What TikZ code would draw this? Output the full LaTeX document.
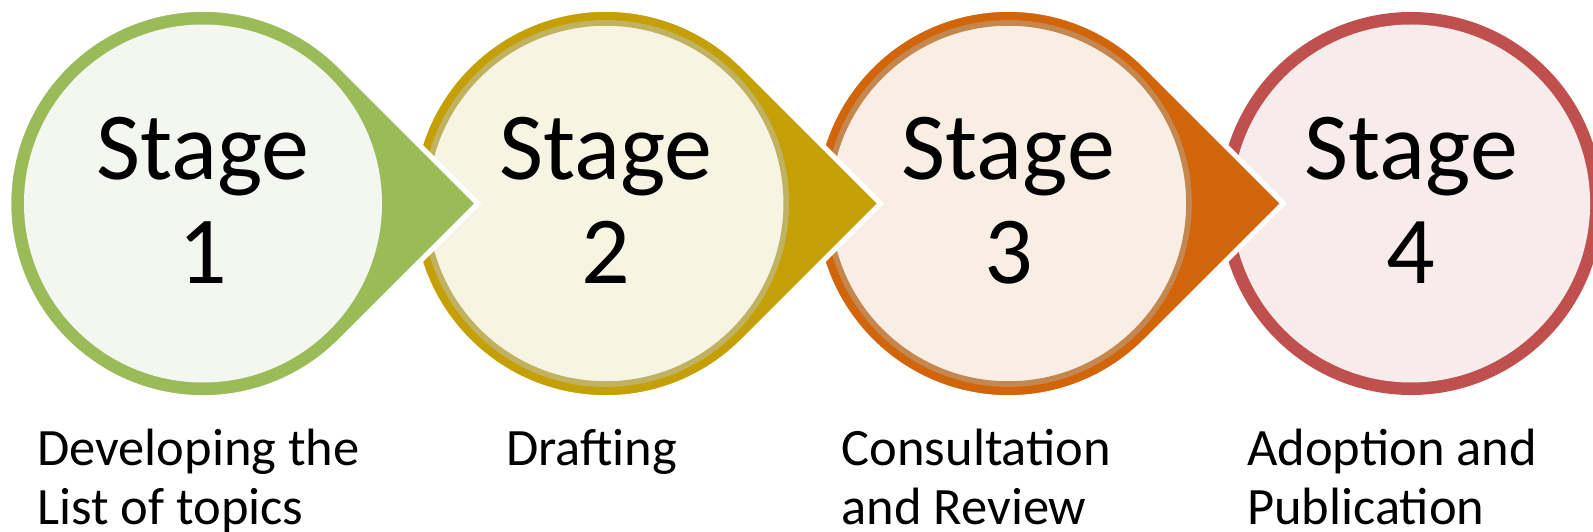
\documentclass[tikz,border=0pt]{standalone}
\usepackage{fontspec}
\setmainfont{Carlito}
\usetikzlibrary{calc}
\definecolor{cgreen}{HTML}{9BBB59}
\definecolor{igreen}{HTML}{F4F7EF}
\definecolor{cgold}{HTML}{C4A006}
\definecolor{bgold}{HTML}{C0B260}
\definecolor{igold}{HTML}{F8F4E4}
\definecolor{corange}{HTML}{D2640A}
\definecolor{borange}{HTML}{C4874F}
\definecolor{iorange}{HTML}{F9EEE4}
\definecolor{cred}{HTML}{C0504D}
\definecolor{ired}{HTML}{F7EBEB}
\tikzset{
  stagetxt/.style={inner sep=0pt, anchor=base, font=\fontsize{96}{103}\selectfont},
  labeltxt/.style={inner sep=0pt, anchor=base west, font=\fontsize{52.5}{58}\selectfont},
  tear/.style={draw=white, line width=5.2pt, line join=miter, miter limit=10},
}
\newcommand{\teardrop}[2]{%
  \path[tear, fill=#2] ($(#1)+(0:274.8)$) -- ($(#1)+(45:194.3)$)
    arc[start angle=45, end angle=315, radius=194.3] -- cycle;}
\begin{document}
\begin{tikzpicture}[x=1pt,y=1pt]
\useasboundingbox (0,0) rectangle (1593,531);
\begin{scope}
\clip (0,0) rectangle (1593,531);
\coordinate (c1) at (203,327.5);
\coordinate (c2) at (605.7,327.5);
\coordinate (c3) at (1008.4,327.5);
\coordinate (c4) at (1411.1,327.5);
% stage 4
\fill[cred] (c4) circle[radius=191.5];
\fill[ired] (c4) circle[radius=179];
% stage 3
\teardrop{c3}{corange}
\path[fill=iorange, draw=borange, line width=5.7pt] (c3) circle[radius=180.6];
% stage 2
\teardrop{c2}{cgold}
\path[fill=igold, draw=bgold, line width=5.7pt] (c2) circle[radius=180.6];
% stage 1
\teardrop{c1}{cgreen}
\fill[igreen] (c1) circle[radius=179];
\end{scope}
% texts
\foreach \i/\x in {1/203,2/605.7,3/1008.4,4/1411.1}{
  \node[stagetxt] (s\i) at (\x,351.5) {Stage};
  \node[stagetxt] (n\i) at (\x,248) {\i};
}
\node[labeltxt] (l1a) at (37,65.3) {Developing the};
\node[labeltxt] (l1b) at (37,6.7) {List of topics};
\node[labeltxt] (l2a) at (506,65.3) {Drafting};
\node[labeltxt] (l3a) at (841.5,65.3) {Consultation};
\node[labeltxt] (l3b) at (841.5,6.7) {and Review};
\node[labeltxt] (l4a) at (1247,65.3) {Adoption and};
\node[labeltxt] (l4b) at (1247,6.7) {Publication};
\end{tikzpicture}
\end{document}
